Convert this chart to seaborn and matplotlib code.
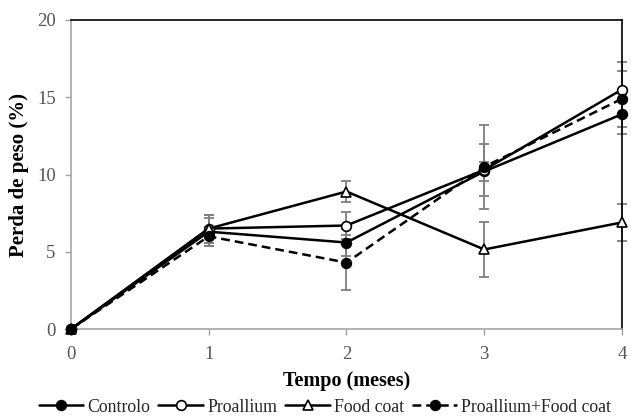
import matplotlib
matplotlib.use("Agg")
import matplotlib.pyplot as plt
import seaborn as sns
import pandas as pd
import numpy as np

months = [0, 1, 2, 3, 4]
series_names = ["Controlo", "Proallium", "Food coat", "Proallium+Food coat"]
controlo = [0, 6.3, 5.6, 10.2, 13.9]
proallium = [0, 6.5, 6.7, 10.3, 15.5]
food_coat = [0, 6.5, 8.9, 5.15, 6.9]
proallium_fc = [0, 6.0, 4.3, 10.5, 14.9]
err_controlo = [0, 0.9, 0.9, 0.6, 1.3]
err_proallium = [0, 0.9, 0.9, 1.7, 1.8]
err_food_coat = [0, 0.9, 0.7, 1.75, 1.2]
err_proallium_fc = [0, 0.6, 1.8, 2.7, 1.8]
y_ticks = [0, 5, 10, 15, 20]

sns.set_theme(style="white")
plt.rcParams['font.family'] = ['Liberation Serif', 'DejaVu Serif']

fig = plt.figure(figsize=(6.31, 4.16), dpi=100)
ax = fig.add_axes([0.1125, 0.209, 0.8732, 0.743])

vals = [controlo, proallium, food_coat, proallium_fc]
errs = [err_controlo, err_proallium, err_food_coat, err_proallium_fc]
styles = [
    dict(marker="o", mfc="black", ls="-"),
    dict(marker="o", mfc="white", ls="-"),
    dict(marker="^", mfc="white", ls="-"),
    dict(marker="o", mfc="black", ls=(0, (3.5, 2))),
]

for name, v, e in zip(series_names, vals, errs):
    ax.errorbar(months, v, yerr=e, fmt="none", ecolor="#7f7f7f", elinewidth=1.3,
                capsize=3.5, capthick=1.3, clip_on=False, zorder=2)

for name, v, st in zip(series_names, vals, styles):
    df = pd.DataFrame({"x": months, "y": v})
    sns.lineplot(data=df, x="x", y="y", ax=ax, color="black", linewidth=1.8,
                 marker=st["marker"], markersize=7 if st["marker"] == "o" else 7.5,
                 markerfacecolor=st["mfc"], markeredgecolor="black", markeredgewidth=1.2,
                 linestyle=st["ls"], label=name, clip_on=False, zorder=3)

ax.set_xlim(0, 4)
ax.set_ylim(0, 20)
ax.set_xticks(months)
ax.set_yticks(y_ticks)
ax.tick_params(axis="both", colors="#a0a0a0", labelcolor="#555555", labelsize=13.5,
               direction="out", length=4, width=1, bottom=True, left=True)
ax.tick_params(axis="x", pad=8)
ax.tick_params(axis="y", pad=7)
for s in ["left", "bottom"]:
    ax.spines[s].set_color("#a6a6a6")
    ax.spines[s].set_linewidth(1.2)
for s in ["top", "right"]:
    ax.spines[s].set_color("black")
    ax.spines[s].set_linewidth(1.2)

ax.set_xlabel("Tempo (meses)", fontsize=14.5, fontweight="bold", color="black", labelpad=6)
ax.set_ylabel("Perda de peso (%)", fontsize=15, fontweight="bold", color="black", labelpad=6)

ax.legend(loc="lower center", bbox_to_anchor=(0.515, -0.016), bbox_transform=fig.transFigure,
          ncol=4, frameon=False, fontsize=12.8, handlelength=2.5, columnspacing=0.45,
          handletextpad=0.25, borderaxespad=0)

fig.savefig("out.png", dpi=100)
